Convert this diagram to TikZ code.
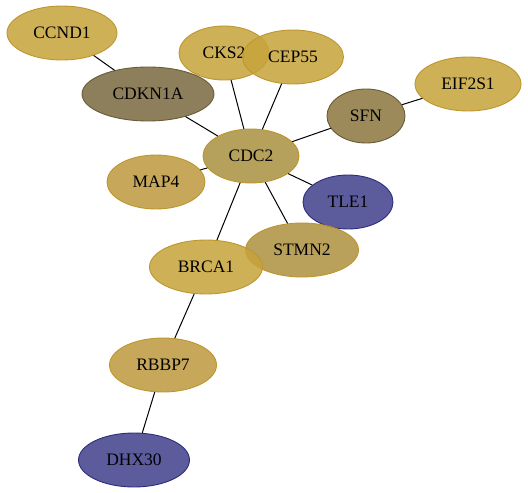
\documentclass[tikz,border=0pt]{standalone}
\usepackage{fontspec}
\setmainfont{Liberation Serif}
\usetikzlibrary{shapes.geometric}
\definecolor{goldfill}{RGB}{198,163,58}
\definecolor{dgoldfill}{RGB}{189,153,61}
\definecolor{midfill}{RGB}{168,143,63}
\definecolor{stmnfill}{RGB}{173,143,62}
\definecolor{olivefill}{RGB}{121,104,62}
\definecolor{sfnfill}{RGB}{139,117,62}
\definecolor{bluefill}{RGB}{64,62,139}
\definecolor{goldline}{RGB}{190,150,45}
\definecolor{oliveline}{RGB}{105,92,55}
\definecolor{blueline}{RGB}{45,45,125}

\begin{document}
\begin{tikzpicture}[
x=1pt, y=-1pt,
genenode/.style={ellipse, draw=goldline, fill=goldfill, fill opacity=0.85, text opacity=1, line width=0.9pt, inner sep=0pt, minimum height=54pt, font=\fontsize{17.5}{18}\selectfont},
darknode/.style={genenode, draw=oliveline},
bluenode/.style={genenode, draw=blueline, fill=bluefill},
link/.style={draw=black, line width=1pt},
]
\useasboundingbox (0,0) rectangle (528,493);
\node[genenode, minimum width=110pt] (ccnd1) at (62,33) {CCND1};
\node[genenode, minimum width=90pt] (cks2) at (224,53) {CKS2};
\node[genenode, minimum width=101pt] (cep55) at (293,57) {CEP55};
\node[darknode, fill=olivefill, minimum width=132pt] (cdkn1a) at (148,94) {CDKN1A};
\node[genenode, minimum width=106pt] (eif2s1) at (468,84) {EIF2S1};
\node[darknode, fill=sfnfill, minimum width=78pt] (sfn) at (366,116) {SFN};
\node[genenode, fill=midfill, minimum width=96pt] (cdc2) at (251,156) {CDC2};
\node[genenode, fill=dgoldfill, minimum width=98pt] (map4) at (156,182) {MAP4};
\node[bluenode, minimum width=90pt] (tle1) at (348,202) {TLE1};
\node[genenode, fill=stmnfill, minimum width=113pt] (stmn2) at (302,250) {STMN2};
\node[genenode, minimum width=113pt] (brca1) at (206,267) {BRCA1};
\node[genenode, fill=dgoldfill, minimum width=107pt] (rbbp7) at (163,365) {RBBP7};
\node[bluenode, minimum width=111pt] (dhx30) at (134,460) {DHX30};
%%%
%% Lines
\draw[link] (ccnd1) -- (cdkn1a);
\draw[link] (cdkn1a) -- (cdc2);
\draw[link] (cks2) -- (cdc2);
\draw[link] (cep55) -- (cdc2);
\draw[link] (sfn) -- (cdc2);
\draw[link] (sfn) -- (eif2s1);
\draw[link] (map4) -- (cdc2);
\draw[link] (tle1) -- (cdc2);
\draw[link] (stmn2) -- (cdc2);
\draw[link] (brca1) -- (cdc2);
\draw[link] (brca1) -- (rbbp7);
\draw[link] (rbbp7) -- (dhx30);
\end{tikzpicture}
\end{document}
